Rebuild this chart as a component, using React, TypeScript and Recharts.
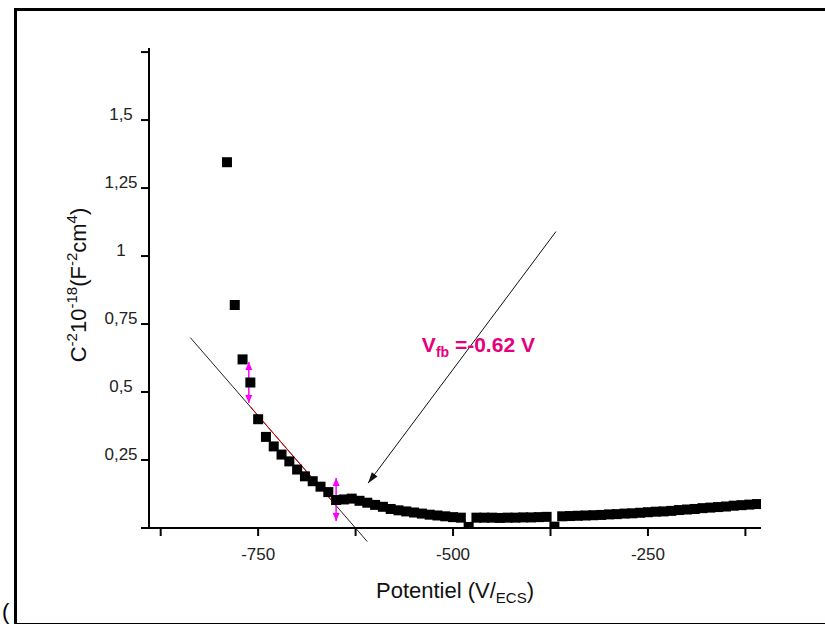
import { ScatterChart, Scatter, XAxis, YAxis, ReferenceLine, ReferenceDot } from "recharts";

// Mott-Schottky data: potential (mV) vs C^-2 (x10^18 F^-2 cm^4)
const potentials = [
  -790, -780, -770, -760, -750, -740, -730, -720, -710, -700,
  -690, -680, -670, -660, -650, -640, -630, -620, -610, -600,
  -590, -580, -570, -560, -550, -540, -530, -520, -510, -500,
  -490, -480, -470, -460, -450, -440, -430, -420, -410, -400,
  -390, -380, -370, -360, -350, -340, -330, -320, -310, -300,
  -290, -280, -270, -260, -250, -240, -230, -220, -210, -200,
  -190, -180, -170, -160, -150, -140, -130, -120, -110,
];
const invCapSquared = [
  1.345, 0.82, 0.62, 0.535, 0.4, 0.335, 0.3, 0.27, 0.245, 0.215,
  0.19, 0.172, 0.152, 0.132, 0.103, 0.105, 0.108, 0.1, 0.093, 0.085,
  0.078, 0.07, 0.065, 0.061, 0.057, 0.053, 0.049, 0.046, 0.043, 0.04,
  0.038, 0.004, 0.038, 0.038, 0.038, 0.037, 0.038, 0.038, 0.039, 0.039,
  0.04, 0.041, 0.005, 0.043, 0.044, 0.045, 0.046, 0.047, 0.048, 0.05,
  0.051, 0.053, 0.054, 0.056, 0.058, 0.06, 0.061, 0.063, 0.066, 0.068,
  0.07, 0.073, 0.075, 0.077, 0.079, 0.082, 0.084, 0.086, 0.088,
];

const xTicks = [-875, -750, -625, -500, -375, -250, -125];
const xTickLabels = ["", "-750", "", "-500", "", "-250", ""];
const yTicks = [0, 0.25, 0.5, 0.75, 1, 1.25, 1.5, 1.75];
const yTickLabels = ["", "0,25", "0,5", "0,75", "1", "1,25", "1,5", ""];

// annotations (data coordinates)
const tangentLine = [{ x: -837, y: 0.7 }, { x: -610, y: -0.05 }];
const fitSegment = [{ x: -760, y: 0.446 }, { x: -651, y: 0.086 }];
const vfbArrow = [{ x: -368, y: 1.09 }, { x: -609, y: 0.165 }];
const fitStartMark = [{ x: -762, y: 0.61 }, { x: -762, y: 0.46 }];
const fitEndMark = [{ x: -650, y: 0.184 }, { x: -650, y: 0.026 }];
const vfbLabel = { x: -540, y: 0.647 };

const data = potentials.map((p, i) => ({ potential: p, value: invCapSquared[i] }));

const font = "'Liberation Sans', Arial, sans-serif";

function head(x: number, y: number, dx: number, dy: number, len: number, half: number, color: string) {
  const l = Math.hypot(dx, dy);
  const ux = dx / l;
  const uy = dy / l;
  const bx = x - ux * len;
  const by = y - uy * len;
  return (
    <polygon
      points={`${x},${y} ${bx - uy * half},${by + ux * half} ${bx + uy * half},${by - ux * half}`}
      fill={color}
    />
  );
}

const arrowShape = (p: any) => (
  <g>
    <line x1={p.x1} y1={p.y1} x2={p.x2} y2={p.y2} stroke="#111" strokeWidth={1} />
    {head(p.x2, p.y2, p.x2 - p.x1, p.y2 - p.y1, 11, 3.5, "#111")}
  </g>
);

const doubleArrowShape = (p: any) => (
  <g>
    <line x1={p.x1} y1={p.y1} x2={p.x2} y2={p.y2} stroke="#ff00ff" strokeWidth={1.5} />
    {head(p.x1, p.y1, p.x1 - p.x2, p.y1 - p.y2, 8, 3.5, "#ff00ff")}
    {head(p.x2, p.y2, p.x2 - p.x1, p.y2 - p.y1, 8, 3.5, "#ff00ff")}
  </g>
);

const XTick = (p: any) => {
  const i = xTicks.indexOf(p.payload.value);
  return (
    <text x={p.x} y={p.y + 22} textAnchor="middle" fontFamily={font} fontSize={17} fill="#222">
      {xTickLabels[i]}
    </text>
  );
};

const YTick = (p: any) => {
  const i = yTicks.indexOf(p.payload.value);
  return (
    <text x={p.x} y={p.y} textAnchor="middle" fontFamily={font} fontSize={17} fill="#222">
      {yTickLabels[i]}
    </text>
  );
};

const XTitle = (p: any) => {
  const vb = p.viewBox;
  return (
    <text x={vb.x + vb.width / 2} y={vb.y + 70} textAnchor="middle" fontFamily={font} fontSize={22} fill="#111">
      Potentiel (V/<tspan fontSize={15} dy={5}>ECS</tspan>
      <tspan dy={-5}>)</tspan>
    </text>
  );
};

const YTitle = (p: any) => {
  const vb = p.viewBox;
  const cx = vb.x - 3;
  const cy = vb.y + vb.height / 2 - 3;
  return (
    <text
      x={cx}
      y={cy}
      textAnchor="middle"
      fontFamily={font}
      fontSize={22}
      fill="#111"
      transform={`rotate(-90 ${cx} ${cy})`}
    >
      C<tspan fontSize={15} dy={-9}>-2</tspan>
      <tspan dy={9}>10</tspan>
      <tspan fontSize={15} dy={-9}>-18</tspan>
      <tspan dy={9}>(F</tspan>
      <tspan fontSize={15} dy={-9}>-2</tspan>
      <tspan dy={9}>cm</tspan>
      <tspan fontSize={15} dy={-9}>4</tspan>
      <tspan dy={9}>)</tspan>
    </text>
  );
};

const VfbText = (p: any) => (
  <text x={p.cx} y={p.cy} fontFamily={font} fontSize={21} fontWeight="bold" fill="#e6007e">
    V<tspan fontSize={14} dy={5}>fb</tspan>
    <tspan dy={-5}> =-0.62 V</tspan>
  </text>
);

export default function App() {
  return (
    <div style={{ position: "absolute", left: 0, top: 0, width: 825, height: 624, background: "#fff", overflow: "hidden" }}>
      <div
        style={{
          position: "absolute",
          left: 14,
          top: 8,
          width: 900,
          height: 612,
          borderLeft: "3px solid #000",
          borderTop: "3px solid #000",
          borderBottom: "2px solid #000",
        }}
      />
      <span style={{ position: "absolute", left: 2, top: 601, fontFamily: font, fontSize: 22, lineHeight: "22px" }}>(</span>
      <div style={{ position: "absolute", left: 0, top: 0 }}>
        <ScatterChart width={825} height={624} margin={{ top: 48, right: 64, bottom: 66, left: 89 }}>
          <XAxis
            type="number"
            dataKey="potential"
            domain={[-890, -105]}
            ticks={xTicks}
            interval={0}
            allowDataOverflow
            tick={<XTick />}
            tickSize={8}
            tickLine={{ stroke: "#000", strokeWidth: 2 }}
            axisLine={{ stroke: "#000", strokeWidth: 2 }}
            height={30}
            label={{ content: XTitle }}
          />
          <YAxis
            type="number"
            dataKey="value"
            domain={[0, 1.765]}
            ticks={yTicks}
            interval={0}
            allowDataOverflow
            tick={<YTick />}
            tickSize={8}
            tickMargin={20}
            tickLine={{ stroke: "#000", strokeWidth: 2 }}
            axisLine={{ stroke: "#000", strokeWidth: 2 }}
            width={60}
            label={{ content: YTitle }}
          />
          <XAxis
            xAxisId="top"
            orientation="top"
            type="number"
            domain={[-890, -105]}
            tick={false}
            tickLine={false}
            height={0}
            axisLine={{ stroke: "#000", strokeWidth: 2 }}
          />
          <YAxis
            yAxisId="right"
            orientation="right"
            type="number"
            domain={[0, 1.765]}
            tick={false}
            tickLine={false}
            width={0}
            axisLine={{ stroke: "#000", strokeWidth: 3 }}
          />
          <Scatter
            data={data}
            isAnimationActive={false}
            shape={(p: any) => <rect x={p.cx - 5} y={p.cy - 5} width={10} height={10} fill="#000" />}
          />
          <ReferenceLine segment={tangentLine} ifOverflow="visible" stroke="#222" strokeWidth={1} />
          <ReferenceLine segment={fitSegment} ifOverflow="visible" stroke="#e00000" strokeWidth={1} />
          <ReferenceLine segment={vfbArrow} ifOverflow="visible" shape={arrowShape} />
          <ReferenceLine segment={fitStartMark} ifOverflow="visible" shape={doubleArrowShape} />
          <ReferenceLine segment={fitEndMark} ifOverflow="visible" shape={doubleArrowShape} />
          <ReferenceDot x={vfbLabel.x} y={vfbLabel.y} r={0} ifOverflow="visible" shape={VfbText} />
        </ScatterChart>
      </div>
    </div>
  );
}
